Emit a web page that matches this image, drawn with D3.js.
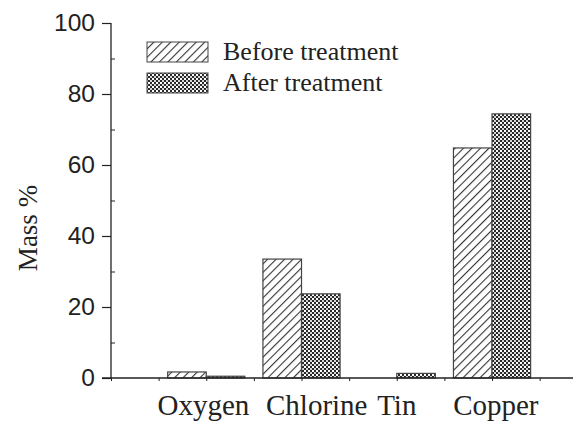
<!DOCTYPE html>
<html>
<head>
<meta charset="utf-8">
<script src="https://cdn.jsdelivr.net/npm/d3@7"></script>
<style>
html,body{margin:0;padding:0;background:#fff;}
svg{display:block;}
</style>
</head>
<body>
<svg id="chart" width="576" height="427"></svg>
<script>
const categories = ["Oxygen", "Chlorine", "Tin", "Copper"];
const beforeValues = [1.7, 33.5, 0, 64.8];
const afterValues = [0.5, 23.7, 1.3, 74.4];
const seriesNames = ["Before treatment", "After treatment"];
const yTicks = [0, 20, 40, 60, 80, 100];
const yMinorTicks = [10, 30, 50, 70, 90];
const xTickSlots = [0, 1, 2, 3, 4, 5, 6, 7, 8, 9];

(function () {
const svg = d3.select("#chart");
const pLeft = 111, pRight = 573, pTop = 23, pBottom = 378;

const x = d3.scaleLinear().domain([0, 9.7]).range([pLeft, pRight]);
const y = d3.scaleLinear().domain([0, 100]).range([pBottom, pTop]);
const slot = i => 2 * (i + 1);
const bw = 0.81;

const defs = svg.append("defs");
const p1 = defs.append("pattern").attr("id", "hatch")
  .attr("patternUnits", "userSpaceOnUse").attr("width", 6).attr("height", 6)
  .attr("patternTransform", "rotate(45)");
p1.append("rect").attr("width", 6).attr("height", 6).attr("fill", "#fff");
p1.append("line").attr("x1", 0).attr("y1", 0).attr("x2", 0).attr("y2", 6)
  .attr("stroke", "#333").attr("stroke-width", 2.2);
const p2 = defs.append("pattern").attr("id", "cross")
  .attr("patternUnits", "userSpaceOnUse").attr("width", 4).attr("height", 4);
p2.append("rect").attr("width", 4).attr("height", 4).attr("fill", "#fff");
p2.append("rect").attr("x", 0).attr("y", 0).attr("width", 2).attr("height", 2).attr("fill", "#2a2a2a");
p2.append("rect").attr("x", 2).attr("y", 2).attr("width", 2).attr("height", 2).attr("fill", "#2a2a2a");
p2.append("rect").attr("x", 2.5).attr("y", 0.5).attr("width", 1).attr("height", 1).attr("fill", "#555");

const fills = ["url(#hatch)", "url(#cross)"];
const data = [beforeValues, afterValues];

data.forEach((vals, s) => {
  svg.append("g").selectAll("rect").data(vals).join("rect")
    .attr("x", (d, i) => s === 0 ? x(slot(i) - bw) : x(slot(i)))
    .attr("width", x(bw) - x(0))
    .attr("y", d => y(d))
    .attr("height", d => y(0) - y(d))
    .attr("fill", fills[s])
    .attr("stroke", d => d > 0 ? "#444" : "none")
    .attr("stroke-width", 1.2);
});

const yAxis = svg.append("g").attr("transform", `translate(${pLeft},0)`)
  .call(d3.axisLeft(y).tickValues(yTicks).tickSize(9).tickPadding(7).tickFormat(d3.format("d")));
yAxis.select(".domain").attr("stroke", "#222").attr("stroke-width", 1.3).attr("d", `M0,${pTop}V${pBottom}`);
yAxis.selectAll(".tick line").attr("stroke", "#222").attr("stroke-width", 1.2);
yAxis.selectAll("text").attr("font-family", "Liberation Sans, Arial, sans-serif").attr("font-size", 24.5).attr("fill", "#222");
svg.append("g").attr("transform", `translate(${pLeft},0)`)
  .call(d3.axisRight(y).tickValues(yMinorTicks).tickSize(4).tickFormat(""))
  .call(g => g.select(".domain").remove())
  .selectAll("line").attr("stroke", "#222").attr("stroke-width", 1);

const xAxis = svg.append("g").attr("transform", `translate(0,${pBottom})`)
  .call(d3.axisBottom(x).tickValues(xTickSlots).tickSize(3).tickFormat(""));
xAxis.select(".domain").attr("stroke", "#222").attr("stroke-width", 1.3).attr("d", `M${pLeft - 9},0H${pRight}`);
xAxis.selectAll(".tick line").attr("stroke", "#222").attr("stroke-width", 1);

// label nudges (slot units) to mimic the hand-placed labels of the original
const nudge = [-0.06, 0.32, 0, 0.08];
svg.append("g").selectAll("text").data(categories).join("text")
  .attr("x", (d, i) => x(slot(i) + nudge[i]))
  .attr("y", 415)
  .attr("text-anchor", "middle")
  .attr("font-family", "Liberation Serif, Times New Roman, serif")
  .attr("font-size", 29)
  .attr("fill", "#222")
  .text(d => d);

svg.append("text")
  .attr("transform", "translate(37,228) rotate(-90)")
  .attr("text-anchor", "middle")
  .attr("font-family", "Liberation Serif, Times New Roman, serif")
  .attr("font-size", 27)
  .attr("fill", "#222")
  .text("Mass %");

const lg = svg.append("g");
seriesNames.forEach((name, s) => {
  const yy = 42 + s * 31;
  lg.append("rect").attr("x", 147).attr("y", yy).attr("width", 61).attr("height", 20)
    .attr("fill", fills[s]).attr("stroke", "#444").attr("stroke-width", 1);
  lg.append("text").attr("x", 223).attr("y", yy + 18)
    .attr("font-family", "Liberation Serif, Times New Roman, serif")
    .attr("font-size", 26).attr("fill", "#222").text(name);
});
})();
</script>
</body>
</html>
